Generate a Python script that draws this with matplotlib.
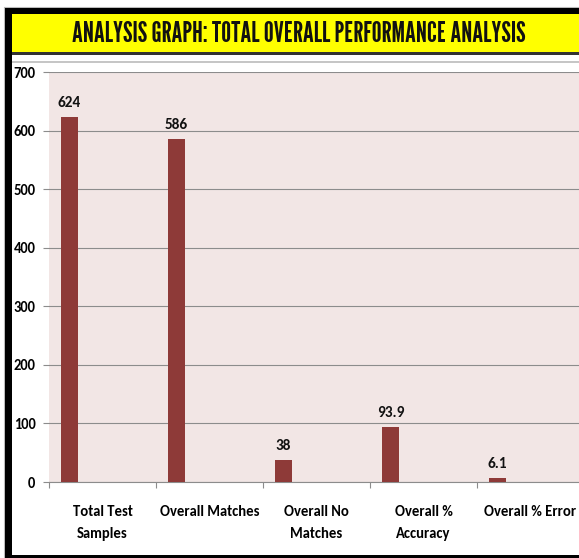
import matplotlib
matplotlib.use("Agg")
import matplotlib.pyplot as plt
from matplotlib.patches import Rectangle
from matplotlib.lines import Line2D

categories = ["Total Test\nSamples", "Overall Matches", "Overall No\nMatches", "Overall %\nAccuracy", "Overall % Error"]
values = [624, 586, 38, 93.9, 6.1]
value_labels = ["624", "586", "38", "93.9", "6.1"]
yticks = [0, 100, 200, 300, 400, 500, 600, 700]
title = "ANALYSIS GRAPH: TOTAL OVERALL PERFORMANCE ANALYSIS"

W, H = 579, 558
fig = plt.figure(figsize=(W / 100, H / 100), dpi=100)
fig.patch.set_facecolor("white")

def fx(px):
    return px / W

def fy(py):
    return 1 - py / H

# frame decorations
fig.patches.append(Rectangle((fx(5), fy(558)), fx(7), fy(8) - fy(558), transform=fig.transFigure,
                             facecolor="black", edgecolor="none", zorder=-1))
fig.patches.append(Rectangle((fx(5), fy(14)), 1, fy(8) - fy(14), transform=fig.transFigure,
                             facecolor="black", edgecolor="none", zorder=-1))
fig.patches.append(Rectangle((fx(12), fy(52)), 1, fy(14) - fy(52), transform=fig.transFigure,
                             facecolor="#FFFF00", edgecolor="none", zorder=-1))
fig.patches.append(Rectangle((fx(12), fy(54.5)), 1, fy(52) - fy(54.5), transform=fig.transFigure,
                             facecolor="#333333", edgecolor="none", zorder=-1))
fig.patches.append(Rectangle((fx(5), fy(558)), 1, fy(554.5) - fy(558), transform=fig.transFigure,
                             facecolor="black", edgecolor="none", zorder=-1))
fig.lines.append(Line2D([fx(12), 1], [fy(61.5), fy(61.5)], transform=fig.transFigure,
                        color="#BBBBBB", lw=1.2, zorder=-1))
fig.lines.append(Line2D([fx(3.5), fx(3.5)], [fy(8), 0], transform=fig.transFigure,
                        color="#BBBBBB", lw=0.8, zorder=-1))
fig.lines.append(Line2D([fx(3.5), 1], [fy(7), fy(7)], transform=fig.transFigure,
                        color="#BBBBBB", lw=0.8, zorder=-1))

fig.text(fx(298.5), fy(34), title, ha="center", va="center", family="League Gothic",
         fontsize=20.1, color="#111111")

# axes
left, right, top, bottom = 49, 584, 72, 482
ax = fig.add_axes([fx(left), fy(bottom), fx(right) - fx(left), fy(top) - fy(bottom)])
ax.set_facecolor("#F2E6E5")
x = list(range(len(categories)))
offset = -0.308
bw = 0.159
bx = [i + offset for i in x]
ax.bar(bx, values, width=bw, color="#8E3A38", zorder=3)
for xi, v, lab in zip(bx, values, value_labels):
    ax.annotate(lab, (xi, v), xytext=(0, 5), textcoords="offset points", ha="center", va="bottom",
                family="Carlito", fontweight="bold", fontsize=11, color="#111111")

ax.set_xlim(-0.5, 4.5)
ax.set_ylim(0, 700)
ax.set_yticks(yticks)
ax.set_yticklabels([str(t) for t in yticks], family="Carlito", fontweight="bold", fontsize=10.5)
ax.grid(axis="y", color="#8C8C8C", lw=0.8, zorder=1)
ax.set_xticks([i - 0.5 for i in range(len(categories) + 1)])
ax.set_xticklabels([])
ax.set_xticks(x, minor=True)
ax.set_xticklabels(categories, minor=True, family="Carlito", fontweight="bold", fontsize=10.5,
                   linespacing=1.75)
ax.tick_params(axis="x", which="minor", length=0, pad=16.5)
ax.tick_params(axis="x", which="major", length=4.5, color="#8C8C8C", width=0.8)
ax.tick_params(axis="y", length=4.3, color="#8C8C8C", width=0.8, pad=5.5)
for s in ["top", "right"]:
    ax.spines[s].set_visible(False)
ax.spines["left"].set_visible(False)
ax.spines["bottom"].set_color("#8C8C8C")
ax.spines["bottom"].set_linewidth(0.8)

fig.savefig("out.png", dpi=100)
